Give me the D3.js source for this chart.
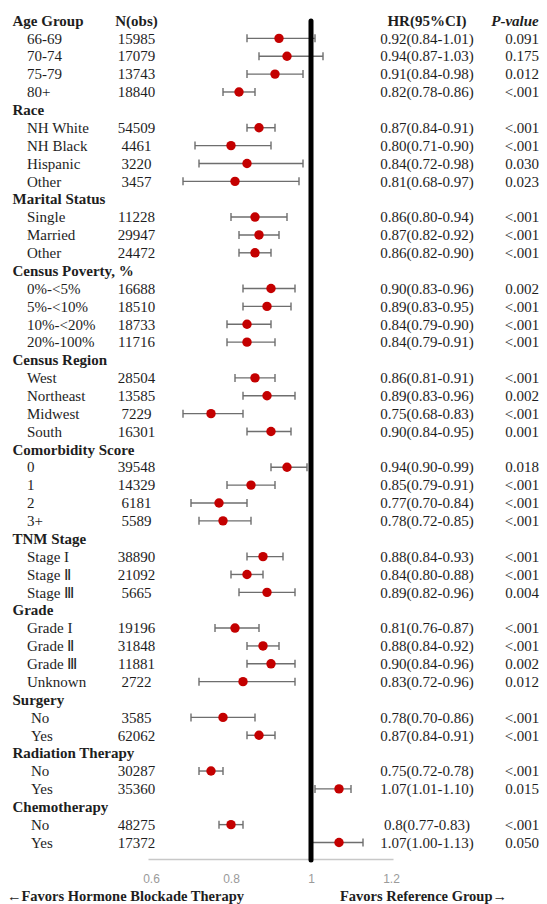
<!DOCTYPE html>
<html>
<head>
<meta charset="utf-8">
<script src="https://cdn.jsdelivr.net/npm/d3@7/dist/d3.min.js"></script>
<style>
  html, body { margin: 0; padding: 0; background: #fff; }
  svg { display: block; }
</style>
</head>
<body>
<svg id="chart" width="547" height="904"></svg>
<script>
// ---------------- DATA ----------------
const rowLabels = [
  "Age Group", "66-69", "70-74", "75-79", "80+",
  "Race", "NH White", "NH Black", "Hispanic", "Other",
  "Marital Status", "Single", "Married", "Other",
  "Census Poverty, %", "0%-<5%", "5%-<10%", "10%-<20%", "20%-100%",
  "Census Region", "West", "Northeast", "Midwest", "South",
  "Comorbidity Score", "0", "1", "2", "3+",
  "TNM Stage", "Stage I", "Stage Ⅱ", "Stage Ⅲ",
  "Grade", "Grade I", "Grade Ⅱ", "Grade Ⅲ", "Unknown",
  "Surgery", "No", "Yes",
  "Radiation Therapy", "No", "Yes",
  "Chemotherapy", "No", "Yes"
];
const nObs = [
  null, 15985, 17079, 13743, 18840,
  null, 54509, 4461, 3220, 3457,
  null, 11228, 29947, 24472,
  null, 16688, 18510, 18733, 11716,
  null, 28504, 13585, 7229, 16301,
  null, 39548, 14329, 6181, 5589,
  null, 38890, 21092, 5665,
  null, 19196, 31848, 11881, 2722,
  null, 3585, 62062,
  null, 30287, 35360,
  null, 48275, 17372
];
const hrValues = [
  null, 0.92, 0.94, 0.91, 0.82,
  null, 0.87, 0.80, 0.84, 0.81,
  null, 0.86, 0.87, 0.86,
  null, 0.90, 0.89, 0.84, 0.84,
  null, 0.86, 0.89, 0.75, 0.90,
  null, 0.94, 0.85, 0.77, 0.78,
  null, 0.88, 0.84, 0.89,
  null, 0.81, 0.88, 0.90, 0.83,
  null, 0.78, 0.87,
  null, 0.75, 1.07,
  null, 0.80, 1.07
];
const ciLower = [
  null, 0.84, 0.87, 0.84, 0.78,
  null, 0.84, 0.71, 0.72, 0.68,
  null, 0.80, 0.82, 0.82,
  null, 0.83, 0.83, 0.79, 0.79,
  null, 0.81, 0.83, 0.68, 0.84,
  null, 0.90, 0.79, 0.70, 0.72,
  null, 0.84, 0.80, 0.82,
  null, 0.76, 0.84, 0.84, 0.72,
  null, 0.70, 0.84,
  null, 0.72, 1.01,
  null, 0.77, 1.00
];
const ciUpper = [
  null, 1.01, 1.03, 0.98, 0.86,
  null, 0.91, 0.90, 0.98, 0.97,
  null, 0.94, 0.92, 0.90,
  null, 0.96, 0.95, 0.90, 0.91,
  null, 0.91, 0.96, 0.83, 0.95,
  null, 0.99, 0.91, 0.84, 0.85,
  null, 0.93, 0.88, 0.96,
  null, 0.87, 0.92, 0.96, 0.96,
  null, 0.86, 0.91,
  null, 0.78, 1.10,
  null, 0.83, 1.13
];
const hrLabels = [
  "", "0.92(0.84-1.01)", "0.94(0.87-1.03)", "0.91(0.84-0.98)", "0.82(0.78-0.86)",
  "", "0.87(0.84-0.91)", "0.80(0.71-0.90)", "0.84(0.72-0.98)", "0.81(0.68-0.97)",
  "", "0.86(0.80-0.94)", "0.87(0.82-0.92)", "0.86(0.82-0.90)",
  "", "0.90(0.83-0.96)", "0.89(0.83-0.95)", "0.84(0.79-0.90)", "0.84(0.79-0.91)",
  "", "0.86(0.81-0.91)", "0.89(0.83-0.96)", "0.75(0.68-0.83)", "0.90(0.84-0.95)",
  "", "0.94(0.90-0.99)", "0.85(0.79-0.91)", "0.77(0.70-0.84)", "0.78(0.72-0.85)",
  "", "0.88(0.84-0.93)", "0.84(0.80-0.88)", "0.89(0.82-0.96)",
  "", "0.81(0.76-0.87)", "0.88(0.84-0.92)", "0.90(0.84-0.96)", "0.83(0.72-0.96)",
  "", "0.78(0.70-0.86)", "0.87(0.84-0.91)",
  "", "0.75(0.72-0.78)", "1.07(1.01-1.10)",
  "", "0.8(0.77-0.83)", "1.07(1.00-1.13)"
];
const pValues = [
  "", "0.091", "0.175", "0.012", "<.001",
  "", "<.001", "<.001", "0.030", "0.023",
  "", "<.001", "<.001", "<.001",
  "", "0.002", "<.001", "<.001", "<.001",
  "", "<.001", "0.002", "<.001", "0.001",
  "", "0.018", "<.001", "<.001", "<.001",
  "", "<.001", "<.001", "0.004",
  "", "<.001", "<.001", "0.002", "0.012",
  "", "<.001", "<.001",
  "", "<.001", "0.015",
  "", "<.001", "0.050"
];
const xTicks = [0.6, 0.8, 1, 1.2];
const refValue = 1;

// ---------------- DRAW ----------------
const svg = d3.select("#chart");
const serif = "'Liberation Serif', 'Times New Roman', serif";
const textColor = "#1e1e1e";

const rows = rowLabels.map((label, i) => ({
  i, label, n: nObs[i], hr: hrValues[i], lo: ciLower[i], hi: ciUpper[i],
  hrText: hrLabels[i], p: pValues[i], header: hrValues[i] === null
}));

const y = d3.scalePoint().domain(rows.map(d => d.i)).range([20.5, 842.5]);
const x = d3.scaleLinear().domain([0.5925, 1.205]).range([148, 393]);
const axisY = 859;

// Column headers
svg.append("text").attr("x", 136.5).attr("y", y(0)).attr("dy", "0.35em")
  .attr("text-anchor", "middle").attr("font-family", serif).attr("font-size", 15)
  .attr("font-weight", "bold").attr("fill", textColor).text("N(obs)");
svg.append("text").attr("x", 427).attr("y", y(0)).attr("dy", "0.35em")
  .attr("text-anchor", "middle").attr("font-family", serif).attr("font-size", 15)
  .attr("font-weight", "bold").attr("fill", textColor).text("HR(95%CI)");
svg.append("text").attr("x", 515).attr("y", y(0)).attr("dy", "0.35em")
  .attr("text-anchor", "middle").attr("font-family", serif).attr("font-size", 15)
  .attr("font-weight", "bold").attr("font-style", "italic").attr("fill", textColor).text("P-value");

// Row labels
svg.append("g").selectAll("text").data(rows).join("text")
  .attr("x", d => d.header ? 12.5 : ((d.label === "Yes" || d.label === "No") ? 31 : 27))
  .attr("y", d => y(d.i)).attr("dy", "0.35em")
  .attr("font-family", serif).attr("font-size", 15)
  .attr("font-weight", d => d.header ? "bold" : "normal")
  .attr("fill", textColor).text(d => d.label);

const items = rows.filter(d => !d.header);

// N column
svg.append("g").selectAll("text").data(items).join("text")
  .attr("x", 136.5).attr("y", d => y(d.i)).attr("dy", "0.35em")
  .attr("text-anchor", "middle").attr("font-family", serif).attr("font-size", 15)
  .attr("fill", textColor).text(d => d.n);

// HR column
svg.append("g").selectAll("text").data(items).join("text")
  .attr("x", 427).attr("y", d => y(d.i)).attr("dy", "0.35em")
  .attr("text-anchor", "middle").attr("font-family", serif).attr("font-size", 15)
  .attr("fill", textColor).text(d => d.hrText);

// P column
svg.append("g").selectAll("text").data(items).join("text")
  .attr("x", 522).attr("y", d => y(d.i)).attr("dy", "0.35em")
  .attr("text-anchor", "middle").attr("font-family", serif).attr("font-size", 15)
  .attr("fill", textColor).text(d => d.p);

// Axis
const axis = d3.axisBottom(x).tickValues(xTicks).tickSize(0).tickSizeOuter(0).tickPadding(15)
  .tickFormat(d => d === 1 ? "1" : d3.format(".1f")(d));
const ag = svg.append("g").attr("transform", `translate(0,${axisY})`).call(axis);
ag.select(".domain").attr("stroke", "#c8c8c8").attr("stroke-width", 1.5);
ag.selectAll(".tick text").attr("font-family", "'Liberation Sans', Arial, sans-serif")
  .attr("font-size", 12).attr("fill", "#9a9a9a");

// CI whiskers
const ci = svg.append("g").attr("stroke", "#6e6e6e").attr("stroke-width", 1.4);
ci.selectAll("line.w").data(items).join("line").attr("class", "w")
  .attr("x1", d => x(d.lo)).attr("x2", d => x(d.hi))
  .attr("y1", d => y(d.i)).attr("y2", d => y(d.i));
ci.selectAll("line.cl").data(items).join("line").attr("class", "cl")
  .attr("x1", d => x(d.lo)).attr("x2", d => x(d.lo))
  .attr("y1", d => y(d.i) - 4).attr("y2", d => y(d.i) + 4);
ci.selectAll("line.ch").data(items).join("line").attr("class", "ch")
  .attr("x1", d => x(d.hi)).attr("x2", d => x(d.hi))
  .attr("y1", d => y(d.i) - 4).attr("y2", d => y(d.i) + 4);

// Reference line
svg.append("line").attr("x1", x(refValue)).attr("x2", x(refValue))
  .attr("y1", 21).attr("y2", axisY + 1)
  .attr("stroke", "#000").attr("stroke-width", 5).attr("stroke-linecap", "round");

// Points
svg.append("g").selectAll("circle").data(items).join("circle")
  .attr("cx", d => x(d.hr)).attr("cy", d => y(d.i)).attr("r", 4.7)
  .attr("fill", "#c40000");

// Bottom captions
svg.append("text").attr("x", 7).attr("y", 895.5).attr("dy", "0.35em")
  .attr("font-family", serif).attr("font-size", 14.5).attr("font-weight", "bold")
  .attr("fill", textColor).text("←Favors Hormone Blockade Therapy");
svg.append("text").attr("x", 340).attr("y", 895.5).attr("dy", "0.35em")
  .attr("font-family", serif).attr("font-size", 14.5).attr("font-weight", "bold")
  .attr("fill", textColor).text("Favors Reference Group→");
</script>
</body>
</html>
